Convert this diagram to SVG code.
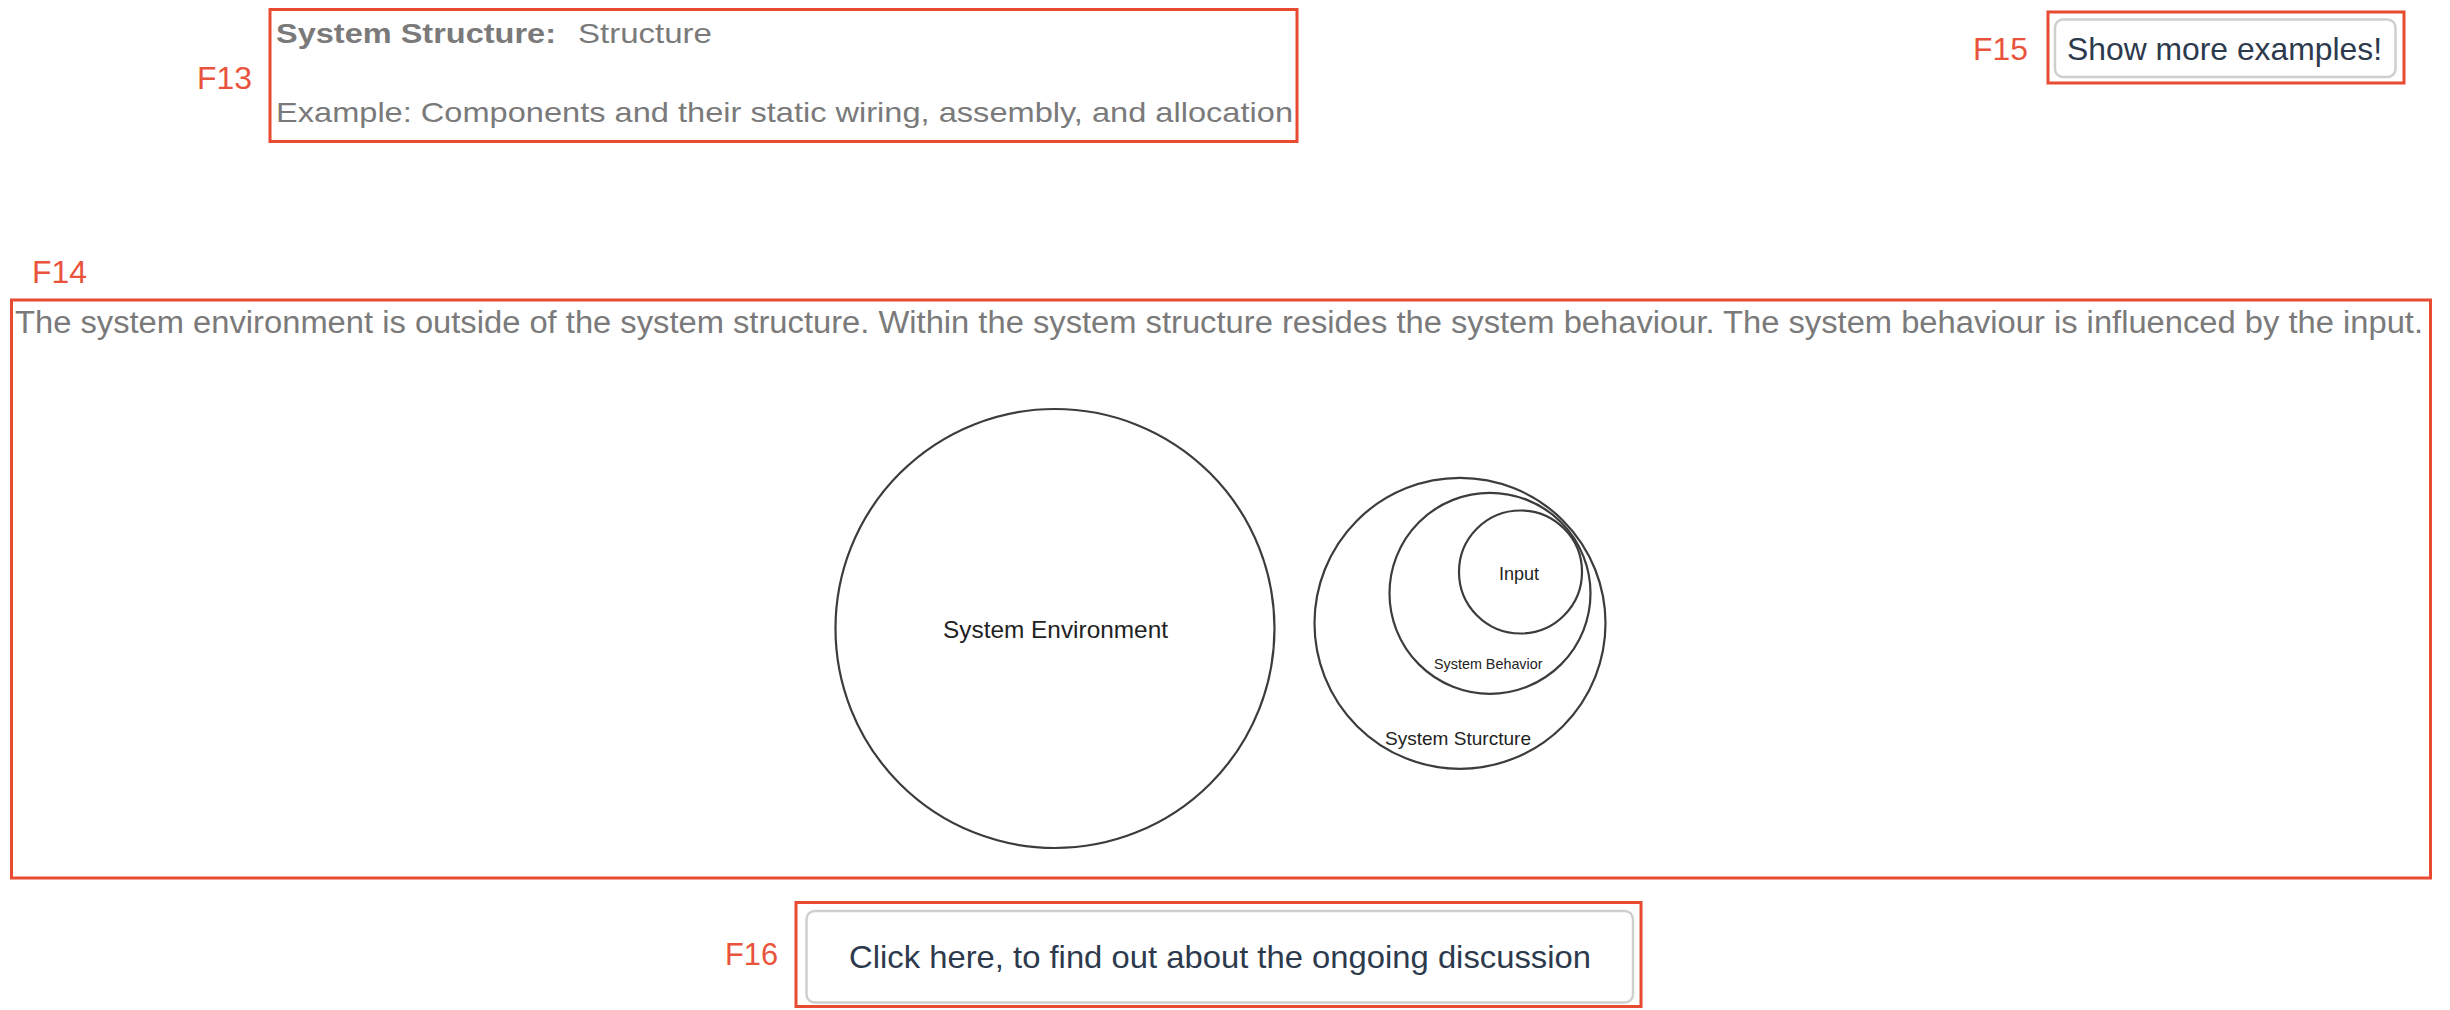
<svg xmlns="http://www.w3.org/2000/svg" width="2450" height="1010" viewBox="0 0 2450 1010">
<style>
.frame{fill:none;stroke:#e84a32;stroke-width:3}
.flabel{font-family:"Liberation Sans",Arial,sans-serif;font-size:32px;fill:#e9533c}
.gray{font-family:"Liberation Sans",Arial,sans-serif;fill:#7a7a7a}
.btn{fill:#fff;stroke:#cfcfcf;stroke-width:2.5}
.btntext{font-family:"Liberation Sans",Arial,sans-serif;font-size:32px;fill:#2d3a4d}
.circ{fill:none;stroke:#3c3c3c;stroke-width:2.2}
.ctext{font-family:"Liberation Sans",Arial,sans-serif;fill:#222}
</style>
<rect width="2450" height="1010" fill="#fff"/>

<g id="F13">
  <text class="flabel" x="197" y="89" textLength="55" lengthAdjust="spacingAndGlyphs">F13</text>
  <rect class="frame" x="270" y="9.5" width="1027" height="132"/>
  <text class="gray" x="276" y="43" font-size="28" font-weight="bold" textLength="280" lengthAdjust="spacingAndGlyphs">System Structure:</text>
  <text class="gray" x="578" y="43" font-size="28" textLength="134" lengthAdjust="spacingAndGlyphs">Structure</text>
  <text class="gray" x="276" y="122" font-size="28" textLength="1017" lengthAdjust="spacingAndGlyphs">Example: Components and their static wiring, assembly, and allocation</text>
</g>

<g id="F15">
  <text class="flabel" x="1973" y="60" textLength="55" lengthAdjust="spacingAndGlyphs">F15</text>
  <rect class="frame" x="2048" y="12" width="356" height="71"/>
  <rect class="btn" x="2055" y="19.5" width="340.5" height="57.5" rx="8"/>
  <text class="btntext" x="2067" y="60" textLength="315" lengthAdjust="spacingAndGlyphs">Show more examples!</text>
</g>

<g id="F14">
  <text class="flabel" x="32" y="283" textLength="55" lengthAdjust="spacingAndGlyphs">F14</text>
  <rect class="frame" x="11.5" y="300" width="2419" height="578"/>
  <text class="gray" x="15" y="333" font-size="31" textLength="2408" lengthAdjust="spacingAndGlyphs">The system environment is outside of the system structure. Within the system structure resides the system behaviour. The system behaviour is influenced by the input.</text>
  <g id="system-environment">
    <circle class="circ" cx="1055" cy="628.5" r="219.5"/>
    <text class="ctext" x="943" y="638" font-size="24.5" textLength="225" lengthAdjust="spacingAndGlyphs">System Environment</text>
  </g>
  <g id="system-structure">
    <circle class="circ" cx="1460" cy="623.3" r="145.5"/>
    <text class="ctext" x="1385" y="745" font-size="19" textLength="146" lengthAdjust="spacingAndGlyphs">System Sturcture</text>
  </g>
  <g id="system-behavior">
    <circle class="circ" cx="1490" cy="593.3" r="100.5"/>
    <text class="ctext" x="1434" y="669" font-size="15" textLength="108.5" lengthAdjust="spacingAndGlyphs">System Behavior</text>
  </g>
  <g id="input">
    <circle class="circ" cx="1520.5" cy="572" r="61.5"/>
    <text class="ctext" x="1499" y="580" font-size="18" textLength="40" lengthAdjust="spacingAndGlyphs">Input</text>
  </g>
</g>

<g id="F16">
  <text class="flabel" x="725" y="965" textLength="53" lengthAdjust="spacingAndGlyphs">F16</text>
  <rect class="frame" x="796" y="902.5" width="845" height="104"/>
  <rect class="btn" x="806.5" y="911" width="826.5" height="91.5" rx="8"/>
  <text class="btntext" x="849" y="968" font-size="31" textLength="742" lengthAdjust="spacingAndGlyphs">Click here, to find out about the ongoing discussion</text>
</g>

<g id="connectors"></g>
</svg>
